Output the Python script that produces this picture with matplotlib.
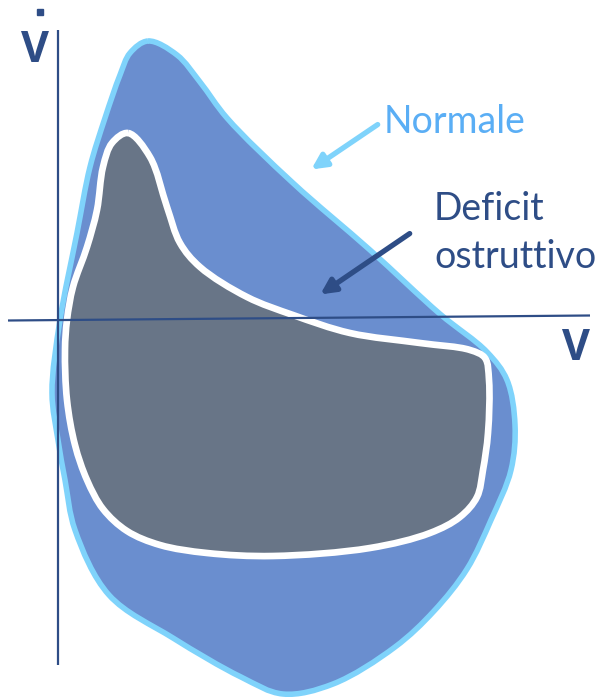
import numpy as np
import matplotlib
matplotlib.use("Agg")
import matplotlib.pyplot as plt
from matplotlib.path import Path
from matplotlib.patches import PathPatch, FancyArrowPatch

# Loop outlines (volume on x, flow on y; in canvas pixel units, y downwards)
normal_x = [148, 177, 200, 227, 293, 370, 440, 487, 507, 515, 511, 491, 467,
            434, 395, 333, 283, 241, 173, 109, 75, 65, 58, 52, 60, 77,
            90, 105, 120, 130]
normal_y = [41, 55, 82, 118, 183, 250, 314, 352, 380, 425, 470, 520, 569,
            611, 647, 684, 694, 677, 638, 595, 530, 480, 440, 393, 320, 233,
            167, 118, 75, 53]

obstr_x = [128, 150, 167, 180, 200, 247, 293, 350, 420, 470, 485, 489, 488, 483, 477,
           460, 430, 370, 273, 207, 160, 127, 103, 87, 75, 67, 65, 67, 73, 87, 97, 103, 112]
obstr_y = [133, 157, 207, 243, 267, 297, 315, 333, 343, 350, 358, 380, 433, 470, 497,
           517, 533, 548, 556, 553, 545, 531, 509, 480, 445, 400, 350, 320, 287, 247, 210, 167, 143]

# Axis extents
v_axis = ([58, 58], [30, 665])
h_axis = ([8, 590], [320.5, 315.5])

NAVY = "#2E4D86"
BLUE_FILL = "#6A8ECF"
BLUE_EDGE = "#7FD3FB"
GRAY_FILL = "#687587"
LABEL_BLUE = "#5AAEF5"


def closed_smooth_path(xs, ys, alpha=0.5):
    # centripetal Catmull-Rom through the outline points, as cubic Bezier segments
    pts = np.column_stack([xs, ys]).astype(float)
    n = len(pts)
    verts = [pts[0]]
    codes = [Path.MOVETO]
    for i in range(n):
        p0, p1, p2, p3 = pts[i - 1], pts[i], pts[(i + 1) % n], pts[(i + 2) % n]
        d1 = np.linalg.norm(p1 - p0) ** alpha
        d2 = np.linalg.norm(p2 - p1) ** alpha
        d3 = np.linalg.norm(p3 - p2) ** alpha
        c1 = (d1**2 * p2 - d2**2 * p0 + (2 * d1**2 + 3 * d1 * d2 + d2**2) * p1) / (3 * d1 * (d1 + d2))
        c2 = (d3**2 * p1 - d2**2 * p3 + (2 * d3**2 + 3 * d3 * d2 + d2**2) * p2) / (3 * d3 * (d3 + d2))
        verts += [c1, c2, p2]
        codes += [Path.CURVE4] * 3
    return Path(verts, codes)


fig = plt.figure(figsize=(6.02, 7.0), dpi=100)
ax = fig.add_axes([0, 0, 1, 1])
ax.set_xlim(0, 602)
ax.set_ylim(700, 0)
ax.axis("off")

ax.add_patch(PathPatch(closed_smooth_path(normal_x, normal_y),
                       facecolor=BLUE_FILL, edgecolor=BLUE_EDGE, lw=4,
                       joinstyle="round", zorder=1))
ax.add_patch(PathPatch(closed_smooth_path(obstr_x, obstr_y),
                       facecolor=GRAY_FILL, edgecolor="white", lw=4.8,
                       joinstyle="round", zorder=2))

ax.plot(*v_axis, color=NAVY, lw=1.6, zorder=3, solid_capstyle="butt")
ax.plot(*h_axis, color=NAVY, lw=1.6, zorder=3, solid_capstyle="butt")

# axis labels: flow (V with dot) and volume
ax.text(35, 62, "V", fontsize=31, fontweight="bold", color=NAVY,
        family="Open Sans", ha="center", va="baseline")
ax.plot([39.5], [12], marker="s", ms=5, color=NAVY, zorder=4)
ax.text(576, 360, "V", fontsize=31, fontweight="bold", color=NAVY,
        family="Open Sans", ha="center", va="baseline")

# annotations
ax.text(384, 133, "Normale", fontsize=27, color=LABEL_BLUE, family="Lato",
        ha="left", va="baseline")
ax.add_patch(FancyArrowPatch((380, 123), (309, 171), arrowstyle="-|>",
                             mutation_scale=22, lw=3.8, color=BLUE_EDGE, zorder=5))

ax.text(434, 220, "Deficit", fontsize=27, color=NAVY, family="Lato",
        ha="left", va="baseline")
ax.text(434, 268, "ostruttivo", fontsize=27, color=NAVY, family="Lato",
        ha="left", va="baseline")
ax.add_patch(FancyArrowPatch((412, 232), (318, 296), arrowstyle="-|>",
                             mutation_scale=22, lw=3.8, color=NAVY, zorder=5))

fig.savefig("out.png", dpi=100, facecolor="white")
